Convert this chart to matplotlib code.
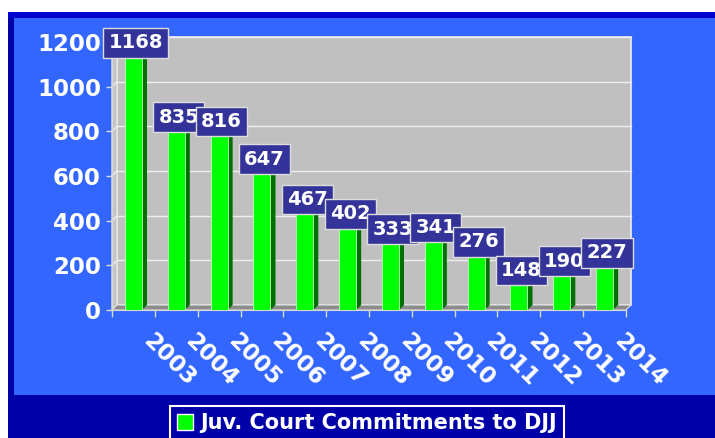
import numpy as np
import matplotlib.pyplot as plt
from matplotlib.patches import Rectangle, Polygon
from matplotlib.transforms import ScaledTranslation

# data
years = [str(y) for y in range(2003, 2015)]
commitments = [1168, 835, 816, 647, 467, 402, 333, 341, 276, 148, 190, 227]
yticks = [0, 200, 400, 600, 800, 1000, 1200]
series_name = 'Juv. Court Commitments to DJJ'

W, H = 715, 438
fig = plt.figure(figsize=(W / 100, H / 100), dpi=100)
fig.patch.set_facecolor('white')


def px_rect(x0, y0, x1, y1, **kw):
    # rectangle in image pixels, y pointing down
    fig.add_artist(Rectangle((x0 / W, 1 - y1 / H), (x1 - x0) / W, (y1 - y0) / H,
                             transform=fig.transFigure, **kw))


# frames
px_rect(8, 12, W + 5, H + 5, fc='#0000A8', ec='none', zorder=0)
px_rect(8, 12, W + 5, 18, fc='#0000CC', ec='none', zorder=0)
px_rect(14, 18, W + 5, 395, fc='#3366FF', ec='none', zorder=0)

ax = fig.add_axes([112 / W, 1 - 310 / H, 514 / W, 268 / H])
ax.patch.set_visible(False)
n = len(years)
ax.set_xlim(0, n)
ax.set_ylim(0, 1200)

# depth of the fake 3d, 5 px in data units
dx = 5 * n / 514
dy = 5 * 1200 / 268

# walls and floor
ax.add_patch(Rectangle((dx, dy), n, 1200, fc='#C0C0C0', ec='#EEEEEE', lw=1.2,
                       clip_on=False, zorder=1))
ax.add_patch(Polygon([(0, 0), (dx, dy), (dx, 1200 + dy), (0, 1200)], closed=True,
                     fc='#C4C4C4', ec='#E6E6E6', lw=1, clip_on=False, zorder=1))
ax.add_patch(Polygon([(0, 0), (n, 0), (n + dx, dy), (dx, dy)], closed=True,
                     fc='#8C8C8C', ec='#DDDDDD', lw=0.8, clip_on=False, zorder=1))
for v in yticks[1:]:
    ax.plot([dx, n + dx], [v + dy, v + dy], color='#EEEEEE', lw=1, zorder=1.5, clip_on=False)
    ax.plot([0, dx], [v, v + dy], color='#EEEEEE', lw=1, zorder=1.5, clip_on=False)

# bars
centers = np.arange(n) + 0.5
bw = 0.4
ax.bar(centers, commitments, width=bw, color='#00FF00', ec='#BBFFBB', lw=0.6, zorder=3)
for c, v in zip(centers, commitments):
    l, r = c - bw / 2, c + bw / 2
    ax.add_patch(Polygon([(r, 0), (r + dx, dy), (r + dx, v + dy), (r, v)], closed=True,
                         fc='#007000', ec='none', zorder=2.5, clip_on=False))
    ax.add_patch(Polygon([(l, v), (l + dx, v + dy), (r + dx, v + dy), (r, v)], closed=True,
                         fc='#66FF66', ec='none', zorder=2.5, clip_on=False))
    ax.annotate(str(v), (c + dx / 2, v + dy), xytext=(0, 1), textcoords='offset points',
                ha='center', va='center', color='white', fontsize=14, fontweight='bold',
                bbox=dict(boxstyle='square,pad=0.27', fc='#333399', ec='#DDDDDD', lw=1),
                zorder=10, annotation_clip=False)

# axes
for s in ['top', 'right']:
    ax.spines[s].set_visible(False)
ax.spines['left'].set_color('#D8D8D8')
ax.spines['bottom'].set_color('#D8D8D8')
ax.spines['left'].set_zorder(4)
ax.spines['bottom'].set_zorder(4)

ax.set_yticks(yticks)
ax.tick_params(axis='y', colors='#D8D8D8', labelcolor='white', labelsize=16.5,
               length=4, width=1, pad=4)
for t in ax.get_yticklabels():
    t.set_fontweight('bold')

ax.set_xticks(range(n + 1))
ax.set_xticklabels([])
ax.tick_params(axis='x', which='major', colors='#D8D8D8', length=5, width=1)
ax.set_xticks(centers, minor=True)
ax.set_xticklabels(years, minor=True)
ax.tick_params(axis='x', which='minor', length=0, pad=20, labelcolor='white', labelsize=16.5)
shift = ScaledTranslation(13 / 100, 0, fig.dpi_scale_trans)
for t in ax.get_xticklabels(minor=True):
    t.set_rotation(-45)
    t.set_ha('left')
    t.set_va('center')
    t.set_rotation_mode('anchor')
    t.set_fontweight('bold')
    t.set_transform(t.get_transform() + shift)

# legend
handle = Rectangle((0, 0), 1, 1, fc='#00FF00', ec='white', lw=1)
leg = fig.legend(handles=[handle], labels=[series_name], loc='upper center',
                 bbox_to_anchor=(367 / W, 1 - 406 / H), frameon=True, fancybox=False,
                 edgecolor='white', facecolor='#0000A8', framealpha=1,
                 prop={'weight': 'bold', 'size': 15}, labelcolor='white',
                 handlelength=0.75, handleheight=0.75, handletextpad=0.35,
                 borderpad=0.35, borderaxespad=0)
leg.get_frame().set_linewidth(1.5)

fig.savefig('out.png', dpi=100)
